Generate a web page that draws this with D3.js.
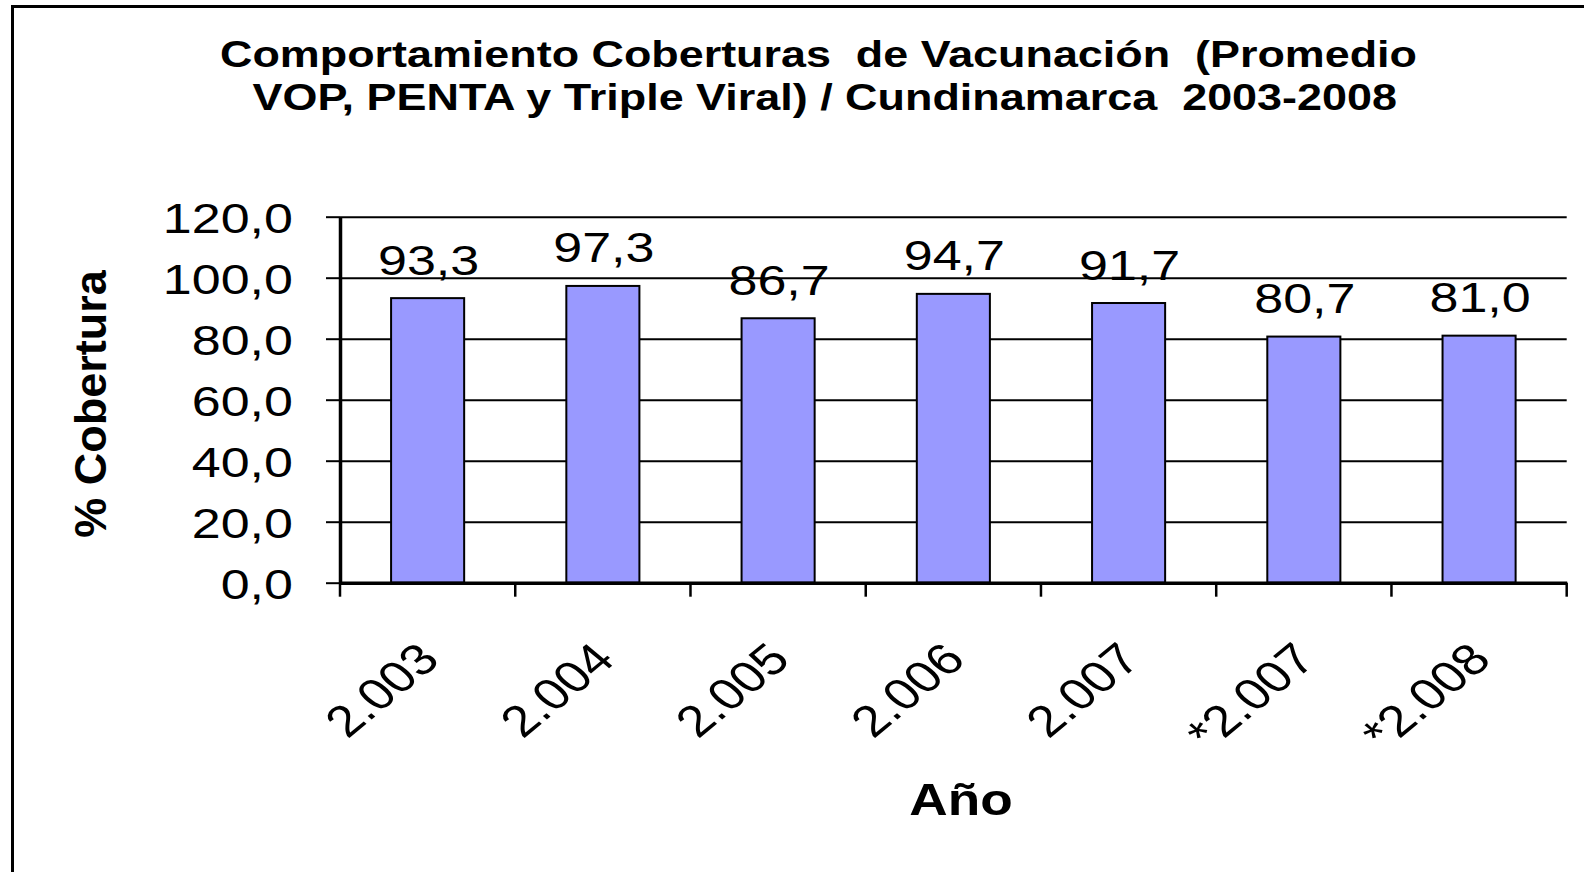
<!DOCTYPE html>
<html>
<head>
  <meta charset="UTF-8">
  <title>Coberturas de Vacunación</title>
  <script src="https://d3js.org/d3.v7.min.js"></script>
  <style>
    body {
      margin: 0;
      background: #fff;
      font-family: "Liberation Sans", Arial, sans-serif;
    }
    svg text {
      white-space: pre;
      fill: #000;
    }
    .grid line {
      stroke: #000;
      stroke-width: 2;
    }
    .bar {
      fill: #9999ff;
      stroke: #000;
      stroke-width: 2;
    }
  </style>
</head>
<body>
  <div id="chart"></div>
  <script>
    const categories = ["2.003", "2.004", "2.005", "2.006", "2.007", "*2.007", "*2.008"];
    const values = [93.3, 97.3, 86.7, 94.7, 91.7, 80.7, 81.0];
    const yTicks = [0, 20, 40, 60, 80, 100, 120];
    const titleLines = [
      "Comportamiento Coberturas  de Vacunación  (Promedio",
      "VOP, PENTA y Triple Viral) / Cundinamarca  2003-2008"
    ];

    const W = 1584, H = 872;
    const plot = { left: 340, right: 1566.7, top: 216.7, bottom: 582.7 };
    const sx = 1.21; // glyphs in the original are drawn wider than normal

    const fmt = v => d3.format(".1f")(v).replace(".", ",");

    const svg = d3.select("#chart")
      .append("svg")
      .attr("width", W)
      .attr("height", H);

    // outer frame (cut off on right and bottom)
    svg.append("rect")
      .attr("x", 12.5)
      .attr("y", 6.5)
      .attr("width", 1700)
      .attr("height", 1000)
      .attr("fill", "none")
      .attr("stroke", "#000")
      .attr("stroke-width", 3);

    const x = d3.scaleBand()
      .domain(categories)
      .range([plot.left, plot.right])
      .paddingInner(0.583)
      .paddingOuter(0.2915);

    const y = d3.scaleLinear()
      .domain([0, 120])
      .range([plot.bottom, plot.top]);

    // title
    const titleBox = [[220, 67, 1197], [252.5, 110, 1144.5]];
    svg.selectAll(".title")
      .data(titleLines)
      .enter()
      .append("text")
      .attr("class", "title")
      .attr("x", (d, i) => titleBox[i][0])
      .attr("y", (d, i) => titleBox[i][1])
      .attr("textLength", (d, i) => titleBox[i][2])
      .attr("lengthAdjust", "spacingAndGlyphs")
      .style("font-size", "37px")
      .style("font-weight", "bold")
      .text(d => d);

    // gridlines
    svg.append("g")
      .attr("class", "grid")
      .attr("transform", `translate(${plot.left},0)`)
      .call(d3.axisLeft(y).tickValues(yTicks.slice(1)).tickSize(-(plot.right - plot.left)).tickFormat(""))
      .call(g => g.select(".domain").remove());

    // y axis
    svg.append("g")
      .attr("transform", `translate(${plot.left},0)`)
      .call(d3.axisLeft(y).tickValues(yTicks).tickSize(14).tickSizeOuter(0).tickFormat(""))
      .call(g => g.select(".domain").attr("stroke-width", 3.5))
      .call(g => g.selectAll(".tick line").attr("stroke-width", 2));

    svg.selectAll(".ylabel")
      .data(yTicks)
      .enter()
      .append("text")
      .attr("class", "ylabel")
      .attr("transform", d => `translate(293,${y(d)}) scale(${sx},1)`)
      .attr("dy", "0.38em")
      .attr("text-anchor", "end")
      .style("font-size", "43px")
      .text(d => fmt(d));

    // bars
    svg.selectAll(".bar")
      .data(values)
      .enter()
      .append("rect")
      .attr("class", "bar")
      .attr("x", (d, i) => x(categories[i]))
      .attr("y", d => y(d))
      .attr("width", x.bandwidth())
      .attr("height", d => y(0) - y(d));

    // x axis line and category boundary ticks
    const half = x.step() * x.paddingInner() / 2;
    const bounds = categories.map(c => x(c) - half).concat([plot.right]);

    svg.append("g")
      .attr("transform", `translate(0,${plot.bottom})`)
      .call(d3.axisBottom(x).tickSize(0).tickFormat(""))
      .call(g => g.select(".domain").attr("stroke-width", 3.5));

    svg.selectAll(".xtick")
      .data(bounds)
      .enter()
      .append("line")
      .attr("class", "xtick")
      .attr("x1", d => d)
      .attr("x2", d => d)
      .attr("y1", plot.bottom)
      .attr("y2", plot.bottom + 14)
      .attr("stroke", "#000")
      .attr("stroke-width", 2.5);

    // data labels
    svg.selectAll(".vlabel")
      .data(values)
      .enter()
      .append("text")
      .attr("class", "vlabel")
      .attr("transform", (d, i) => `translate(${x(categories[i]) + x.bandwidth() / 2 + 1},${y(d) - 23.5}) scale(${sx},1)`)
      .attr("text-anchor", "middle")
      .style("font-size", "43px")
      .text(d => fmt(d));

    // category labels, rotated
    svg.selectAll(".xlabel")
      .data(categories)
      .enter()
      .append("text")
      .attr("class", "xlabel")
      .attr("transform", d => `translate(${x(d) + x.bandwidth() / 2 + 14},${plot.bottom + 79}) scale(${sx},1) rotate(-45)`)
      .attr("text-anchor", "end")
      .style("font-size", "44px")
      .text(d => d);

    // axis titles
    svg.append("text")
      .attr("transform", `translate(961,815) scale(${sx},1)`)
      .attr("text-anchor", "middle")
      .style("font-size", "44px")
      .style("font-weight", "bold")
      .text("Año");

    svg.append("text")
      .attr("transform", "translate(106,404) rotate(-90)")
      .attr("text-anchor", "middle")
      .style("font-size", "45px")
      .style("font-weight", "bold")
      .text("% Cobertura");
  </script>
</body>
</html>
